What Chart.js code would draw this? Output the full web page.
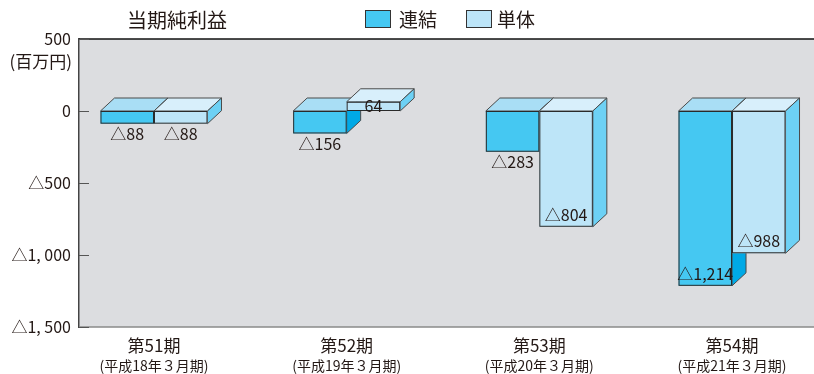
<!DOCTYPE html>
<html lang="ja">
<head>
<meta charset="utf-8">
<script src="https://cdn.jsdelivr.net/npm/chart.js@4"></script>
<style>
  html, body { margin: 0; padding: 0; background: #ffffff; }
  canvas { display: block; }
</style>
</head>
<body>
<canvas id="c" width="814" height="374"></canvas>
<script>
// ---- data ----
const categories = ['第51期', '第52期', '第53期', '第54期'];
const subLabels = ['(平成18年３月期)', '(平成19年３月期)', '(平成20年３月期)', '(平成21年３月期)'];
const seriesNames = ['連結', '単体'];
const consolidated = [-88, -156, -283, -1214];
const standalone = [-88, 64, -804, -988];
const yTicks = [500, 0, -500, -1000, -1500];
const chartTitle = '当期純利益';
const unitLabel = '(百万円)';

// ---- styles ----
const FONT = "'Noto Sans CJK JP', 'Noto Sans', sans-serif";
const TEXT = '#231815';
const palette = [
  { front: '#45c8f2', top: '#a9def5', side: '#00a9e6' },
  { front: '#bde5f8', top: '#d8effb', side: '#6dd1f5' }
];
const DX = 14, DY = 13;

function tickText(v) {
  if (v === 0) return '0';
  const a = Math.abs(v).toLocaleString('en-US').replace(/,/g, ', ');
  return v < 0 ? '△' + a : a;
}
function barText(v) {
  const a = Math.abs(v).toLocaleString('en-US');
  return v < 0 ? '△' + a : a;
}

const box3d = {
  id: 'box3d',
  beforeDraw(chart) {
    const { ctx, chartArea: a } = chart;
    ctx.save();
    ctx.fillStyle = '#dcdde0';
    ctx.fillRect(a.left, a.top, a.right - a.left, a.bottom - a.top);
    ctx.restore();
  },
  beforeDatasetsDraw(chart) {
    const ctx = chart.ctx;
    const metas = [chart.getDatasetMeta(0), chart.getDatasetMeta(1)];
    const n = categories.length;
    ctx.save();
    ctx.lineWidth = 1;
    ctx.lineJoin = 'miter';
    for (let j = 0; j < n; j++) {
      for (let d = 0; d < 2; d++) {
        const el = metas[d].data[j];
        const p = el.getProps(['x', 'y', 'base', 'width'], true);
        const x0 = p.x - p.width / 2, x1 = p.x + p.width / 2;
        const yT = Math.min(p.y, p.base), yB = Math.max(p.y, p.base);
        const c = palette[d];
        // top face
        ctx.beginPath();
        ctx.moveTo(x0, yT); ctx.lineTo(x0 + DX, yT - DY); ctx.lineTo(x1 + DX, yT - DY); ctx.lineTo(x1, yT); ctx.closePath();
        ctx.fillStyle = c.top; ctx.fill();
        ctx.strokeStyle = '#4a4a4a'; ctx.stroke();
        // side face
        ctx.beginPath();
        ctx.moveTo(x1, yT); ctx.lineTo(x1 + DX, yT - DY); ctx.lineTo(x1 + DX, yB - DY); ctx.lineTo(x1, yB); ctx.closePath();
        ctx.fillStyle = c.side; ctx.fill();
        ctx.strokeStyle = '#4a4a4a'; ctx.stroke();
        // front face
        ctx.fillStyle = c.front;
        ctx.fillRect(x0, yT, x1 - x0, yB - yT);
        ctx.strokeStyle = '#2a2a2a';
        ctx.strokeRect(x0 + 0.5, yT + 0.5, x1 - x0 - 1, yB - yT - 1);
      }
    }
    // labels
    ctx.font = '16px ' + FONT;
    ctx.fillStyle = TEXT;
    ctx.textAlign = 'center';
    ctx.textBaseline = 'middle';
    for (let d = 0; d < 2; d++) {
      const vals = d === 0 ? consolidated : standalone;
      for (let j = 0; j < n; j++) {
        const p = metas[d].data[j].getProps(['x', 'y', 'base', 'width'], true);
        const yT = Math.min(p.y, p.base), yB = Math.max(p.y, p.base);
        const v = vals[j];
        let ty;
        if (v >= 0) ty = (yT + yB) / 2;
        else if (yB - yT > 60) ty = yB - 12;
        else ty = yB + 10;
        ctx.fillText(barText(v), p.x, ty);
      }
    }
    ctx.restore();
    return false;
  },
  afterDraw(chart) {
    const { ctx, chartArea: a } = chart;
    const ys = chart.scales.y;
    const xs = chart.scales.x;
    ctx.save();
    // top line
    ctx.strokeStyle = '#111';
    ctx.lineWidth = 1.5;
    ctx.beginPath(); ctx.moveTo(a.left, a.top); ctx.lineTo(a.right, a.top); ctx.stroke();
    // bottom line
    ctx.strokeStyle = '#8a8a8a';
    ctx.lineWidth = 1.5;
    ctx.beginPath(); ctx.moveTo(a.left, a.bottom); ctx.lineTo(a.right, a.bottom); ctx.stroke();
    // inward ticks
    ctx.strokeStyle = '#555';
    ctx.lineWidth = 1;
    yTicks.forEach(v => {
      const y = Math.round(ys.getPixelForValue(v)) + 0.5;
      ctx.beginPath(); ctx.moveTo(a.left, y); ctx.lineTo(a.left + 10, y); ctx.stroke();
    });
    // sub labels under categories
    ctx.fillStyle = TEXT;
    ctx.font = '14px ' + FONT;
    ctx.textAlign = 'center';
    ctx.textBaseline = 'middle';
    subLabels.forEach((s, i) => {
      ctx.fillText(s, xs.getPixelForValue(i), 366);
    });
    // unit label
    ctx.font = '17px ' + FONT;
    ctx.textAlign = 'right';
    ctx.fillText(unitLabel, 72, 62);
    // title
    ctx.font = '20px ' + FONT;
    ctx.textAlign = 'left';
    ctx.fillText(chartTitle, 127, 20);
    // legend
    const leg = [{ bx: 365, tx: 399 }, { bx: 466, tx: 497 }];
    ctx.font = '19px ' + FONT;
    leg.forEach((l, i) => {
      ctx.fillStyle = palette[i].front;
      ctx.fillRect(l.bx, 10, 26, 18);
      ctx.strokeStyle = '#333';
      ctx.lineWidth = 1;
      ctx.strokeRect(l.bx + 0.5, 10.5, 25, 17);
      ctx.fillStyle = TEXT;
      ctx.fillText(seriesNames[i], l.tx, 20);
    });
    ctx.restore();
  }
};

new Chart(document.getElementById('c'), {
  type: 'bar',
  data: {
    datasets: [
      { label: seriesNames[0], data: consolidated.map((v, i) => ({ x: i, y: v })), backgroundColor: palette[0].front },
      { label: seriesNames[1], data: standalone.map((v, i) => ({ x: i, y: v })), backgroundColor: palette[1].front }
    ]
  },
  options: {
    responsive: false,
    animation: false,
    devicePixelRatio: 1,
    barThickness: 53.5,
    layout: { padding: { top: 39, right: 0, left: 0, bottom: 0 } },
    plugins: { legend: { display: false }, title: { display: false }, tooltip: { enabled: false } },
    scales: {
      x: {
        type: 'linear',
        offset: false,
        min: -0.3892,
        max: 3.4255,
        grid: { display: false, drawTicks: false },
        border: { display: false },
        afterBuildTicks: s => { s.ticks = categories.map((c, i) => ({ value: i })); },
        afterFit: s => { s.height = 47; },
        ticks: {
          autoSkip: false,
          maxRotation: 0,
          padding: 8,
          color: TEXT,
          font: { family: FONT, size: 17, lineHeight: 1.2 },
          callback: v => categories[v]
        }
      },
      y: {
        min: -1500,
        max: 500,
        afterBuildTicks: s => { s.ticks = yTicks.map(v => ({ value: v })); },
        afterFit: s => { s.width = 79; },
        grid: { display: false, drawTicks: false },
        border: { display: true, color: '#444', width: 1.5 },
        ticks: {
          padding: 8,
          color: TEXT,
          font: { family: FONT, size: 16 },
          callback: v => tickText(v)
        }
      }
    }
  },
  plugins: [box3d]
});
</script>
</body>
</html>
